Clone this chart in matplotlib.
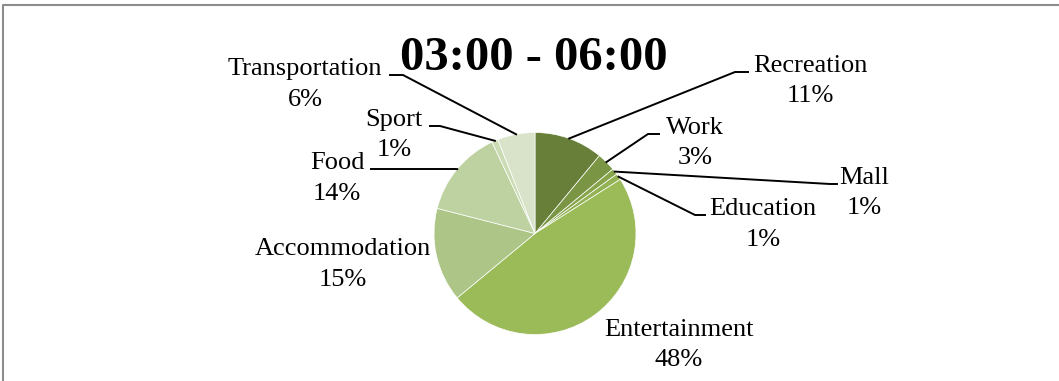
import numpy as np
import matplotlib.pyplot as plt

categories = ['Recreation', 'Work', 'Mall', 'Education', 'Entertainment',
              'Accommodation', 'Food', 'Sport', 'Transportation']
shares = [11, 3, 1, 1, 48, 15, 14, 1, 6]
title = '03:00 - 06:00'

colors = ['#687f39', '#7a9544', '#87a44b', '#93b254', '#9bbb59',
          '#adc687', '#bdd2a0', '#cbdcb4', '#d8e3c9']

W, H = 1059, 381
# label centre x and baseline of the first line, in pixels from the top
label_pos = [(810, 72), (695, 134), (864, 184), (763, 215), (679, 336),
             (343, 255), (337, 169), (394, 126), (305, 75)]
# leader line knee x and end x next to the text (None = no leader)
leaders = [(735, 748), (648, 659), (830, 837), (695, 705), None,
           None, (455, 371), (440, 430), (403, 390)]

plt.rcParams['font.family'] = ['Liberation Serif', 'DejaVu Serif']

fig = plt.figure(figsize=(W / 100, H / 100), dpi=100)
ax = fig.add_axes([0, 0, 1, 1])

cx, cy, r = 535, H - 233.5, 101
wedges, _ = ax.pie(shares, colors=colors, startangle=90, counterclock=False,
                   center=(cx, cy), radius=r,
                   wedgeprops=dict(edgecolor='white', linewidth=0.5))
ax.set_xlim(0, W)
ax.set_ylim(0, H)
ax.set_aspect('equal')
ax.axis('off')

for w, name, val, (tx, ty), ld in zip(wedges, categories, shares, label_pos, leaders):
    ax.text(tx, H - ty, name, ha='center', va='baseline', fontsize=19)
    ax.text(tx, H - ty - 30.5, f'{val}%', ha='center', va='baseline', fontsize=19)
    if ld is not None:
        ang = np.deg2rad((w.theta1 + w.theta2) / 2)
        ex, ey = cx + r * np.cos(ang), cy + r * np.sin(ang)
        knee, end = ld
        ax.plot([ex, knee, end], [ey, H - ty, H - ty], color='black', lw=1.4)

ax.text(534, H - 70, title, ha='center', va='baseline', fontsize=35,
        fontweight='bold')

# chart frame (only top and left edges are inside the image)
ax.plot([3, 3, W + 5], [-5, H - 5, H - 5], color='#8c8c8c', lw=1.5,
        clip_on=False)

fig.savefig('out.png', dpi=100)
